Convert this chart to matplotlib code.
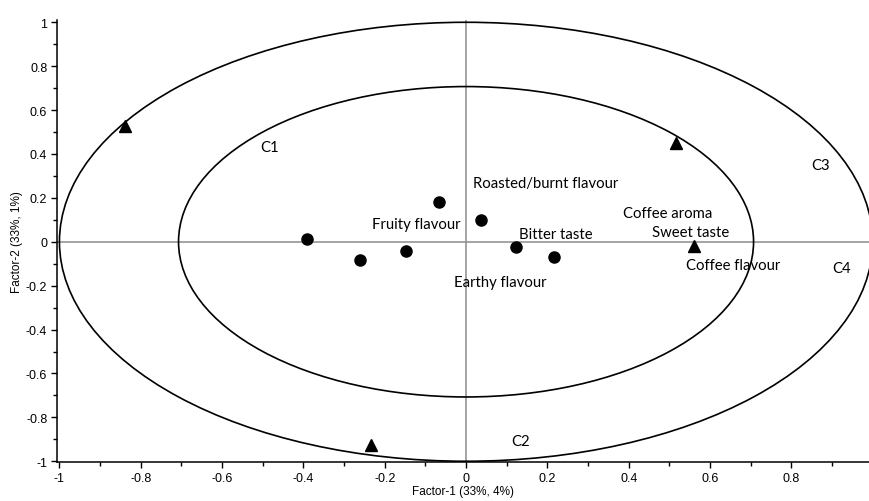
import numpy as np
import matplotlib
matplotlib.use("Agg")
import matplotlib.pyplot as plt
from matplotlib.patches import Ellipse
from matplotlib.ticker import MultipleLocator, FuncFormatter

# observations (circles) and variables (triangles)
obs_x = [-0.066, 0.037, -0.392, -0.26, -0.148, 0.122, 0.216]
obs_y = [0.181, 0.100, 0.014, -0.085, -0.043, -0.026, -0.068]
var_x = [-0.838, 0.516, 0.56, -0.235]
var_y = [0.528, 0.452, -0.02, -0.925]

# attribute labels: text, x, y (left edge, vertical centre)
attr_labels = ["Roasted/burnt flavour", "Fruity flavour", "Bitter taste",
               "Coffee aroma", "Sweet taste", "Coffee flavour", "Earthy flavour"]
attr_x = [0.018, -0.232, 0.13, 0.387, 0.457, 0.541, -0.03]
attr_y = [0.269, 0.079, 0.036, 0.132, 0.044, -0.107, -0.183]

# cluster labels
clu_labels = ["C1", "C2", "C3", "C4"]
clu_x = [-0.484, 0.133, 0.872, 0.924]
clu_y = [0.43, -0.907, 0.35, -0.119]

radii = [1.0, np.sqrt(0.5)]

fig = plt.figure(figsize=(8.69, 5.02), dpi=100)
ax = fig.add_axes([0.0656, 0.077, 0.9344, 0.881])
ax.set_xlim(-1.006, 0.991)
ax.set_ylim(-1.005, 1.01)

for r in radii:
    ax.add_patch(Ellipse((0, 0), 2 * r, 2 * r, fill=False, ec="black", lw=1.2, zorder=2))

ax.axhline(0, color="#8c8c8c", lw=1.1, zorder=1)
ax.axvline(0, color="#8c8c8c", lw=1.1, zorder=1)

ax.plot(obs_x, obs_y, "o", color="black", ms=8, zorder=3)
ax.plot(var_x, var_y, "^", color="black", ms=9, zorder=3)

for t, x, y in zip(attr_labels, attr_x, attr_y):
    ax.text(x, y, t, fontsize=10.7, family="Lato", ha="left", va="center", zorder=4)
for t, x, y in zip(clu_labels, clu_x, clu_y):
    ax.text(x, y, t, fontsize=10.7, family="Lato", ha="center", va="center", zorder=4)

for s in ["top", "right"]:
    ax.spines[s].set_visible(False)
for s in ["left", "bottom"]:
    ax.spines[s].set_linewidth(1.1)

ax.xaxis.set_major_locator(MultipleLocator(0.2))
ax.xaxis.set_minor_locator(MultipleLocator(0.1))
ax.yaxis.set_major_locator(MultipleLocator(0.2))
ax.yaxis.set_minor_locator(MultipleLocator(0.1))
fmt = FuncFormatter(lambda v, p: "%g" % round(v, 2) if abs(v) > 1e-9 else "0")
ax.xaxis.set_major_formatter(fmt)
ax.yaxis.set_major_formatter(fmt)
ax.tick_params(which="major", direction="out", length=4, width=1, labelsize=9,
               labelfontfamily="Liberation Sans", pad=3)
ax.tick_params(which="minor", direction="out", length=3, width=1)

ax.set_xlabel("Factor-1 (33%, 4%)", fontsize=8.5, family="Liberation Sans", labelpad=1)
ax.set_ylabel("Factor-2 (33%, 1%)", fontsize=8.5, family="Liberation Sans", labelpad=2)

fig.savefig("out.png", dpi=100)
